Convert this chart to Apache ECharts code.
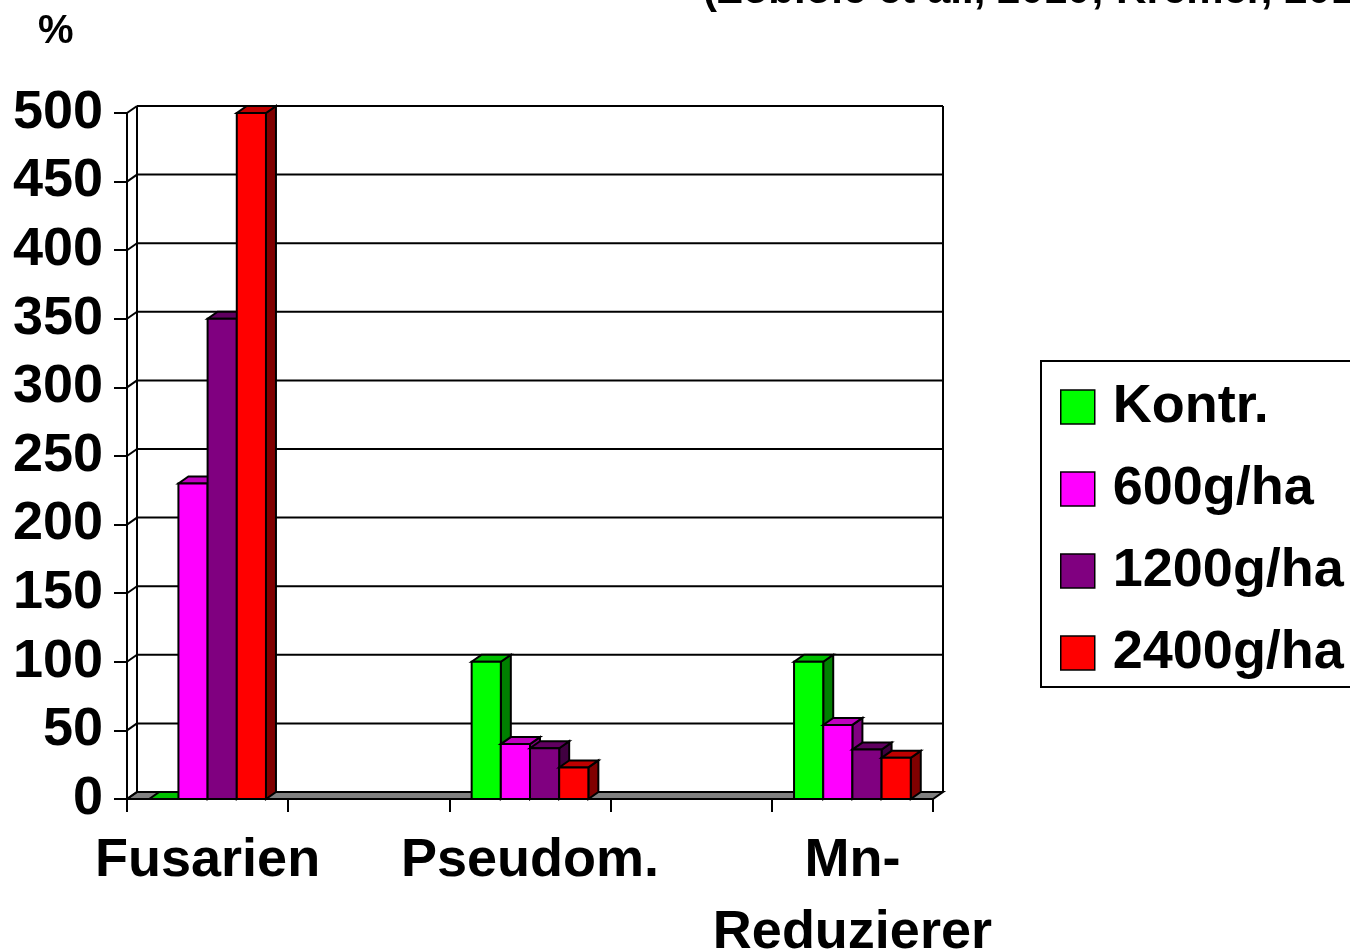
<!DOCTYPE html>
<html>
<head>
<meta charset="utf-8">
<script src="https://cdn.jsdelivr.net/npm/echarts@6/dist/echarts.min.js"></script>
<style>
  html, body { margin: 0; padding: 0; background: #fff; }
  #main { width: 1350px; height: 952px; }
</style>
</head>
<body>
<div id="main"></div>
<script>
var categories = ['Fusarien', '', 'Pseudom.', '', 'Mn-\nReduzierer'];
var seriesNames = ['Kontr.', '600g/ha', '1200g/ha', '2400g/ha'];
var kontr = [0, null, 100, null, 100];
var g600 = [230, null, 40, null, 54];
var g1200 = [350, null, 37, null, 36];
var g2400 = [500, null, 23, null, 30];
var yTicks = [0, 50, 100, 150, 200, 250, 300, 350, 400, 450, 500];

var FONT = "'Liberation Sans', Arial, sans-serif";
var DX = 10, DY = -7;          // depth offset of the 3d look
var BAR_RATIO = 0.181;         // bar width / category width

// front, top, side colours for each series
var colors = [
    ['#00ff00', '#00c000', '#008000'],
    ['#ff00ff', '#c000c0', '#800080'],
    ['#800080', '#600060', '#400040'],
    ['#ff0000', '#c00000', '#800000']
];

var dom = document.getElementById('main');
var myChart = echarts.init(dom);

function toData(arr) {
    var out = [];
    arr.forEach(function (v, i) {
        if (v !== null) out.push([i, v]);
    });
    return out;
}

// walls, floor and back grid lines
function renderFrame(params, api) {
    var cs = params.coordSys;
    var x0 = cs.x, x1 = cs.x + cs.width;
    var yb = api.coord([0, 0])[1];
    var yt = api.coord([0, yTicks[yTicks.length - 1]])[1];
    var line = { stroke: '#000', lineWidth: 2 };
    var children = [{
        type: 'polygon',
        shape: { points: [[x0, yb], [x1, yb], [x1 + DX, yb + DY], [x0 + DX, yb + DY]] },
        style: { fill: '#808080', stroke: '#000', lineWidth: 2 }
    }];
    yTicks.forEach(function (t) {
        var y = api.coord([0, t])[1];
        children.push({ type: 'line', shape: { x1: x0 + DX, y1: y + DY, x2: x1 + DX, y2: y + DY }, style: line });
        children.push({ type: 'line', shape: { x1: x0, y1: y, x2: x0 + DX, y2: y + DY }, style: line });
    });
    children.push({ type: 'line', shape: { x1: x0 + DX, y1: yb + DY, x2: x0 + DX, y2: yt + DY }, style: line });
    children.push({ type: 'line', shape: { x1: x1 + DX, y1: yb + DY, x2: x1 + DX, y2: yt + DY }, style: line });
    return { type: 'group', children: children };
}

function makeBarRender(k) {
    return function (params, api) {
        var v = api.value(1);
        if (isNaN(v)) return;
        var c = api.coord([api.value(0), v]);
        var base = api.coord([api.value(0), 0]);
        var bw = api.size([1, 0])[0] * BAR_RATIO;
        var xl = c[0] + (k - 2) * bw, xr = xl + bw;
        var yt = c[1], yb = base[1];
        var col = colors[k];
        return {
            type: 'group',
            children: [{
                type: 'polygon',
                shape: { points: [[xr, yt], [xr + DX, yt + DY], [xr + DX, yb + DY], [xr, yb]] },
                style: { fill: col[2], stroke: '#000', lineWidth: 2 }
            }, {
                type: 'polygon',
                shape: { points: [[xl, yt], [xr, yt], [xr + DX, yt + DY], [xl + DX, yt + DY]] },
                style: { fill: col[1], stroke: '#000', lineWidth: 2 }
            }, {
                type: 'rect',
                shape: { x: xl, y: yt, width: bw, height: yb - yt },
                style: { fill: col[0], stroke: '#000', lineWidth: 2 }
            }]
        };
    };
}

var values = [kontr, g600, g1200, g2400];
var series = [{
    name: 'frame',
    type: 'custom',
    renderItem: renderFrame,
    data: [[0, 0]],
    z: 1,
    silent: true
}];
values.forEach(function (arr, k) {
    series.push({
        name: seriesNames[k],
        type: 'custom',
        renderItem: makeBarRender(k),
        itemStyle: { color: colors[k][0] },
        data: toData(arr),
        z: 2
    });
});

option = {
    animation: false,
    backgroundColor: '#fff',
    textStyle: { fontFamily: FONT },
    graphic: [{
        type: 'text',
        left: 38,
        top: 12,
        style: { text: '%', font: 'bold 40px ' + FONT, fill: '#000' }
    }, {
        type: 'text',
        x: 703,
        y: -9,
        style: {
            text: '(Zobiole et al., 2010; Kremer, 2010)',
            font: 'bold 42px ' + FONT,
            fill: '#000',
            verticalAlign: 'middle'
        }
    }],
    legend: {
        data: seriesNames,
        orient: 'vertical',
        left: 1041,
        top: 361,
        padding: [19, 20, 7, 19],
        borderColor: '#000',
        borderWidth: 2,
        icon: 'rect',
        itemWidth: 34,
        itemHeight: 34,
        itemGap: 28,
        itemStyle: { borderColor: '#000', borderWidth: 1.5 },
        textStyle: {
            fontSize: 54,
            fontWeight: 'bold',
            fontFamily: FONT,
            color: '#000',
            lineHeight: 54,
            padding: [0, 0, 0, 13]
        }
    },
    grid: {
        left: 127,
        right: 417,
        top: 113,
        bottom: 153,
        containLabel: false,
        outerBoundsMode: 'none'
    },
    xAxis: {
        type: 'category',
        data: categories,
        axisLine: { show: true, lineStyle: { color: '#000', width: 2 } },
        axisTick: { show: true, length: 13, lineStyle: { color: '#000', width: 2 } },
        axisLabel: {
            interval: 0,
            margin: 26,
            fontSize: 54,
            fontWeight: 'bold',
            fontFamily: FONT,
            color: '#000',
            lineHeight: 72
        },
        splitLine: { show: false }
    },
    yAxis: {
        type: 'value',
        min: 0,
        max: 500,
        interval: 50,
        axisLine: { show: true, lineStyle: { color: '#000', width: 2 } },
        axisTick: { show: true, length: 13, lineStyle: { color: '#000', width: 2 } },
        axisLabel: {
            margin: 24,
            fontSize: 54,
            fontWeight: 'bold',
            fontFamily: FONT,
            color: '#000'
        },
        splitLine: { show: false }
    },
    series: series
};

if (option && typeof option === 'object') {
    myChart.setOption(option, true);
}
</script>
</body>
</html>
